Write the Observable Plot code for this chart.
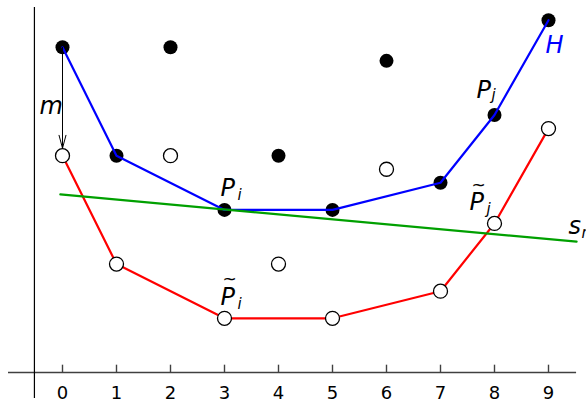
<!DOCTYPE html>
<html>
<head>
<meta charset="utf-8">
<script src="https://cdn.jsdelivr.net/npm/d3@7"></script>
<script src="https://cdn.jsdelivr.net/npm/@observablehq/plot@0.6"></script>
<style>
  html, body { margin: 0; padding: 0; background: #fff; }
  svg { display: block; }
</style>
</head>
<body>
<div id="chart"></div>
<script>
// ---- data ----
const xs = [0, 1, 2, 3, 4, 5, 6, 7, 8, 9];
const filledY = [12, 8, 12, 6, 8, 6, 11.5, 7, 9.5, 13];
const openY = [8, 4, 8, 2, 4, 2, 7.5, 3, 5.5, 9];
const hullIdx = [0, 1, 3, 5, 7, 8, 9];
const tickLabels = ["0", "1", "2", "3", "4", "5", "6", "7", "8", "9"];
const smLine = [{x: -0.04, y: 6.57}, {x: 9.52, y: 4.83}];

const filled = xs.map((x, i) => ({x, y: filledY[i]}));
const open = xs.map((x, i) => ({x, y: openY[i]}));
const hull = hullIdx.map(i => filled[i]);
const hullOpen = hullIdx.map(i => open[i]);
const ticks = xs.map((x, i) => ({x, label: tickLabels[i]}));

const F = "DejaVu Sans";
const lab = (d, text, opts) => Plot.text([d], {x: "x", y: "y", text: () => text, fontFamily: F, fontStyle: "italic", textAnchor: "start", lineAnchor: "bottom", fill: "black", ...opts});
const tilde = (d, opts) => Plot.text([d], {x: "x", y: "y", text: () => "~", fontFamily: F, textAnchor: "start", lineAnchor: "bottom", fill: "black", fontSize: 17, ...opts});

const chart = Plot.plot({
  width: 586,
  height: 400,
  margin: 0,
  x: {domain: [0, 9], range: [62, 548], axis: null},
  y: {domain: [0, 13], range: [372, 372 - 13 * 27.1], axis: null},
  marks: [
    // axes
    Plot.ruleY([0], {x1: -1.0, x2: 9.52, stroke: "#404040", strokeWidth: 1.6}),
    Plot.ruleX([-0.52], {y1: -0.96, y2: 13.47, stroke: "black", strokeWidth: 1.2}),
    Plot.ruleX(ticks, {x: "x", y1: 0, y2: 0.27, stroke: "#404040", strokeWidth: 1.4}),
    Plot.text(ticks, {x: "x", y: 0, text: "label", dy: 26, lineAnchor: "bottom", fontFamily: F, fontSize: 18, fill: "black"}),
    // red line + open circles
    Plot.line(hullOpen, {x: "x", y: "y", stroke: "#ff0000", strokeWidth: 2.2}),
    Plot.dot(open, {x: "x", y: "y", r: 7, fill: "white", stroke: "black", strokeWidth: 1.3}),
    // filled dots + blue hull
    Plot.dot(filled, {x: "x", y: "y", r: 7, fill: "black", stroke: "none"}),
    Plot.line(hull, {x: "x", y: "y", stroke: "#0000ff", strokeWidth: 2.2}),
    // green line s_m
    Plot.line(smLine, {x: "x", y: "y", stroke: "#00a000", strokeWidth: 2.2}),
    // arrow m
    Plot.arrow([{x: 0, y1: filledY[0], y2: openY[0]}], {x: "x", y1: "y1", y2: "y2", stroke: "black", strokeWidth: 1, headAngle: 30, headLength: 20, insetEnd: 7.5}),
    // labels
    lab(filled[0], "m", {dx: -23, dy: 67, fontSize: 24}),
    lab(filled[3], "P", {dx: -4, dy: -14, fontSize: 24}),
    lab(filled[3], "i", {dx: 13, dy: -10, fontSize: 15}),
    lab(filled[8], "P", {dx: -18, dy: -17, fontSize: 24}),
    lab(filled[8], "j", {dx: -3, dy: -15, fontSize: 15}),
    lab(open[3], "P", {dx: -4, dy: -13, fontSize: 24}),
    tilde(open[3], {dx: -2, dy: -33}),
    lab(open[3], "i", {dx: 13, dy: -9, fontSize: 15}),
    lab(open[8], "P", {dx: -25, dy: -13, fontSize: 24}),
    tilde(open[8], {dx: -23, dy: -32}),
    lab(open[8], "j", {dx: -8, dy: -9, fontSize: 15}),
    lab(filled[9], "H", {dx: -3, dy: 33, fontSize: 24, fill: "#0000ff"}),
    lab(smLine[1], "s", {dx: -8, dy: -8, fontSize: 24}),
    lab(smLine[1], "m", {dx: 5, dy: -4, fontSize: 15})
  ]
});
document.getElementById("chart").appendChild(chart);
</script>
</body>
</html>
